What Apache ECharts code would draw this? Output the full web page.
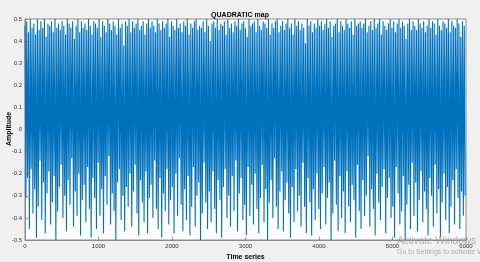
<!DOCTYPE html>
<html><head><meta charset="utf-8">
<script src="https://cdn.jsdelivr.net/npm/echarts@6/dist/echarts.min.js"></script>
<style>html,body{margin:0;padding:0;background:#f0f0f0;}#c{width:480px;height:262px;}</style>
</head><body><div id="c"></div>
<script>
// Time-series amplitude values read (estimated) from the picture, one sample every 12 time steps
const timeStep = 12;
const amplitude = [
0.47,-0.31,0.49,-0.22,0.44,-0.45,0.50,-0.18,0.46,-0.38,0.48,-0.27,0.43,-0.49,0.50,-0.35,0.45,-0.14,0.49,-0.41,
0.46,-0.24,0.50,-0.47,0.42,-0.29,0.48,-0.19,0.47,-0.43,0.49,-0.33,0.44,-0.21,0.50,-0.50,0.46,-0.37,0.48,-0.26,
0.45,-0.16,0.49,-0.40,0.47,-0.30,0.43,-0.46,0.50,-0.23,0.48,-0.34,0.46,-0.13,0.49,-0.44,0.41,-0.28,0.47,-0.39,
0.50,-0.20,0.44,-0.48,0.49,-0.32,0.46,-0.25,0.48,-0.42,0.45,-0.17,0.50,-0.36,0.47,-0.49,0.43,-0.22,0.49,-0.31,
0.48,-0.45,0.46,-0.15,0.50,-0.39,0.42,-0.27,0.49,-0.47,0.47,-0.21,0.44,-0.34,0.50,-0.12,0.48,-0.43,0.45,-0.29,
0.49,-0.37,0.47,-0.50,0.43,-0.24,0.50,-0.18,0.46,-0.41,0.48,-0.30,0.38,-0.46,0.49,-0.26,0.47,-0.35,0.50,-0.20,
0.44,-0.44,0.49,-0.28,0.46,-0.16,0.48,-0.38,0.50,-0.48,0.45,-0.23,0.47,-0.33,0.49,-0.42,0.43,-0.19,0.48,-0.47,
0.50,-0.31,0.46,-0.25,0.49,-0.40,0.47,-0.14,0.44,-0.36,0.50,-0.45,0.48,-0.22,0.45,-0.49,0.49,-0.29,0.46,-0.37,
0.48,-0.18,0.50,-0.43,0.42,-0.32,0.49,-0.26,0.47,-0.47,0.45,-0.20,0.50,-0.39,0.46,-0.13,0.48,-0.34,0.44,-0.46,
0.49,-0.27,0.47,-0.41,0.50,-0.21,0.43,-0.48,0.48,-0.35,0.46,-0.17,0.49,-0.44,0.50,-0.30,0.45,-0.24,0.47,-0.50,
0.46,-0.38,0.49,-0.15,0.44,-0.33,0.50,-0.45,0.47,-0.28,0.40,-0.42,0.48,-0.19,0.49,-0.36,0.46,-0.47,0.50,-0.23,
0.45,-0.32,0.48,-0.49,0.47,-0.26,0.49,-0.18,0.43,-0.40,0.50,-0.30,0.46,-0.44,0.48,-0.21,0.44,-0.37,0.49,-0.14,
0.47,-0.46,0.50,-0.29,0.45,-0.22,0.48,-0.41,0.49,-0.34,0.46,-0.48,0.42,-0.17,0.50,-0.39,0.47,-0.25,0.48,-0.43,
0.49,-0.20,0.44,-0.36,0.50,-0.47,0.47,-0.31,0.45,-0.16,0.49,-0.42,0.48,-0.27,0.46,-0.50,0.50,-0.33,0.43,-0.23,
0.48,-0.40,0.46,-0.13,0.49,-0.35,0.50,-0.45,0.44,-0.28,0.47,-0.19,0.49,-0.46,0.45,-0.32,0.48,-0.24,0.50,-0.38,
0.46,-0.49,0.48,-0.26,0.43,-0.42,0.50,-0.18,0.47,-0.37,0.49,-0.30,0.45,-0.44,0.48,-0.15,0.46,-0.35,0.39,-0.47,
0.50,-0.22,0.47,-0.33,0.49,-0.48,0.44,-0.27,0.48,-0.41,0.46,-0.20,0.50,-0.36,0.47,-0.45,0.49,-0.29,0.45,-0.17,
0.48,-0.43,0.50,-0.31,0.46,-0.24,0.49,-0.50,0.42,-0.38,0.47,-0.14,0.48,-0.34,0.50,-0.46,0.44,-0.21,0.49,-0.40,
0.47,-0.28,0.45,-0.47,0.50,-0.19,0.48,-0.35,0.46,-0.42,0.49,-0.25,0.43,-0.32,0.50,-0.49,0.47,-0.16,0.48,-0.37,
0.49,-0.45,0.46,-0.23,0.48,-0.39,0.50,-0.30,0.44,-0.12,0.47,-0.44,0.49,-0.27,0.45,-0.36,0.50,-0.48,0.46,-0.20,
0.48,-0.33,0.50,-0.41,0.43,-0.26,0.49,-0.18,0.47,-0.47,0.45,-0.31,0.48,-0.22,0.50,-0.40,0.46,-0.35,0.49,-0.49,
0.44,-0.17,0.48,-0.29,0.50,-0.43,0.46,-0.37,0.49,-0.21,0.47,-0.50,0.41,-0.34,0.48,-0.25,0.50,-0.45,0.45,-0.15,
0.49,-0.39,0.47,-0.24,0.45,-0.46,0.50,-0.32,0.48,-0.19,0.46,-0.42,0.49,-0.28,0.44,-0.36,0.47,-0.48,0.50,-0.22,
0.46,-0.30,0.49,-0.44,0.48,-0.16,0.43,-0.38,0.50,-0.27,0.47,-0.49,0.45,-0.33,0.49,-0.20,0.48,-0.41,0.46,-0.26,
0.50,-0.47,0.44,-0.35,0.49,-0.23,0.47,-0.43,0.46,-0.18,0.50,-0.31,0.48,-0.45,0.42,-0.28,0.49,-0.39,0.47,-0.30
];
const xTicks = [0, 1000, 2000, 3000, 4000, 5000, 6000];
const yTicks = [-0.5, -0.4, -0.3, -0.2, -0.1, 0, 0.1, 0.2, 0.3, 0.4, 0.5];
const titleText = 'QUADRATIC map';
const xName = 'Time series';
const yName = 'Amplitude';

const seriesData = amplitude.map((v, i) => [i * timeStep, v]);
const font = 'Liberation Sans, Arial, sans-serif';
const chart = echarts.init(document.getElementById('c'), null, {renderer: 'canvas'});
chart.setOption({
  backgroundColor: '#f0f0f0',
  animation: false,
  title: {text: titleText, left: 'center', top: 7, textStyle: {fontFamily: font, fontSize: 7, fontWeight: 'bold', color: '#000'}},
  grid: {left: 25, right: 14, top: 19, bottom: 22, show: true, backgroundColor: '#fff', borderColor: '#8a8a8a', borderWidth: 1,
         containLabel: false, outerBoundsMode: 'none'},
  xAxis: {
    type: 'value', min: 0, max: 6000, interval: 1000,
    name: xName, nameLocation: 'middle', nameGap: 13,
    nameTextStyle: {fontFamily: font, fontSize: 7, fontWeight: 'bold', color: '#000'},
    axisLine: {show: true, onZero: false, lineStyle: {color: '#8a8a8a', width: 1}},
    axisTick: {show: true, inside: true, length: 3, lineStyle: {color: '#8a8a8a'}},
    axisLabel: {fontFamily: font, fontSize: 6, color: '#333', margin: 3,
      formatter: v => xTicks.includes(v) ? String(v) : ''},
    splitLine: {show: false}
  },
  yAxis: {
    type: 'value', min: -0.5, max: 0.5, interval: 0.1,
    axisLine: {show: true, onZero: false, lineStyle: {color: '#8a8a8a', width: 1}},
    axisTick: {show: true, inside: true, length: 3, lineStyle: {color: '#8a8a8a'}},
    axisLabel: {fontFamily: font, fontSize: 6, color: '#333', margin: 3,
      formatter: v => { const r = Math.round(v * 10) / 10; return yTicks.includes(r) ? String(r) : ''; }},
    splitLine: {show: false}
  },
  graphic: [
    {type: 'text', x: 9, y: 129, rotation: Math.PI / 2, silent: true, z: 100,
     style: {text: yName, fontFamily: font, fontSize: 7, fontWeight: 'bold', fill: '#000', align: 'center', verticalAlign: 'middle'}},
    {type: 'text', left: 397, top: 236, silent: true, z: 100, style: {text: 'Activate Windows', fontFamily: font, fontSize: 10, fill: 'rgba(150,150,150,0.75)'}},
    {type: 'text', left: 397, top: 249, silent: true, z: 100, style: {text: 'Go to Settings to activate Windows.', fontFamily: font, fontSize: 7, fill: 'rgba(150,150,150,0.75)'}}
  ],
  series: [{
    type: 'line', data: seriesData, showSymbol: false, symbol: 'none',
    lineStyle: {color: '#0072bd', width: 1.1}, clip: true, large: false, sampling: null
  }]
});
</script></body></html>
